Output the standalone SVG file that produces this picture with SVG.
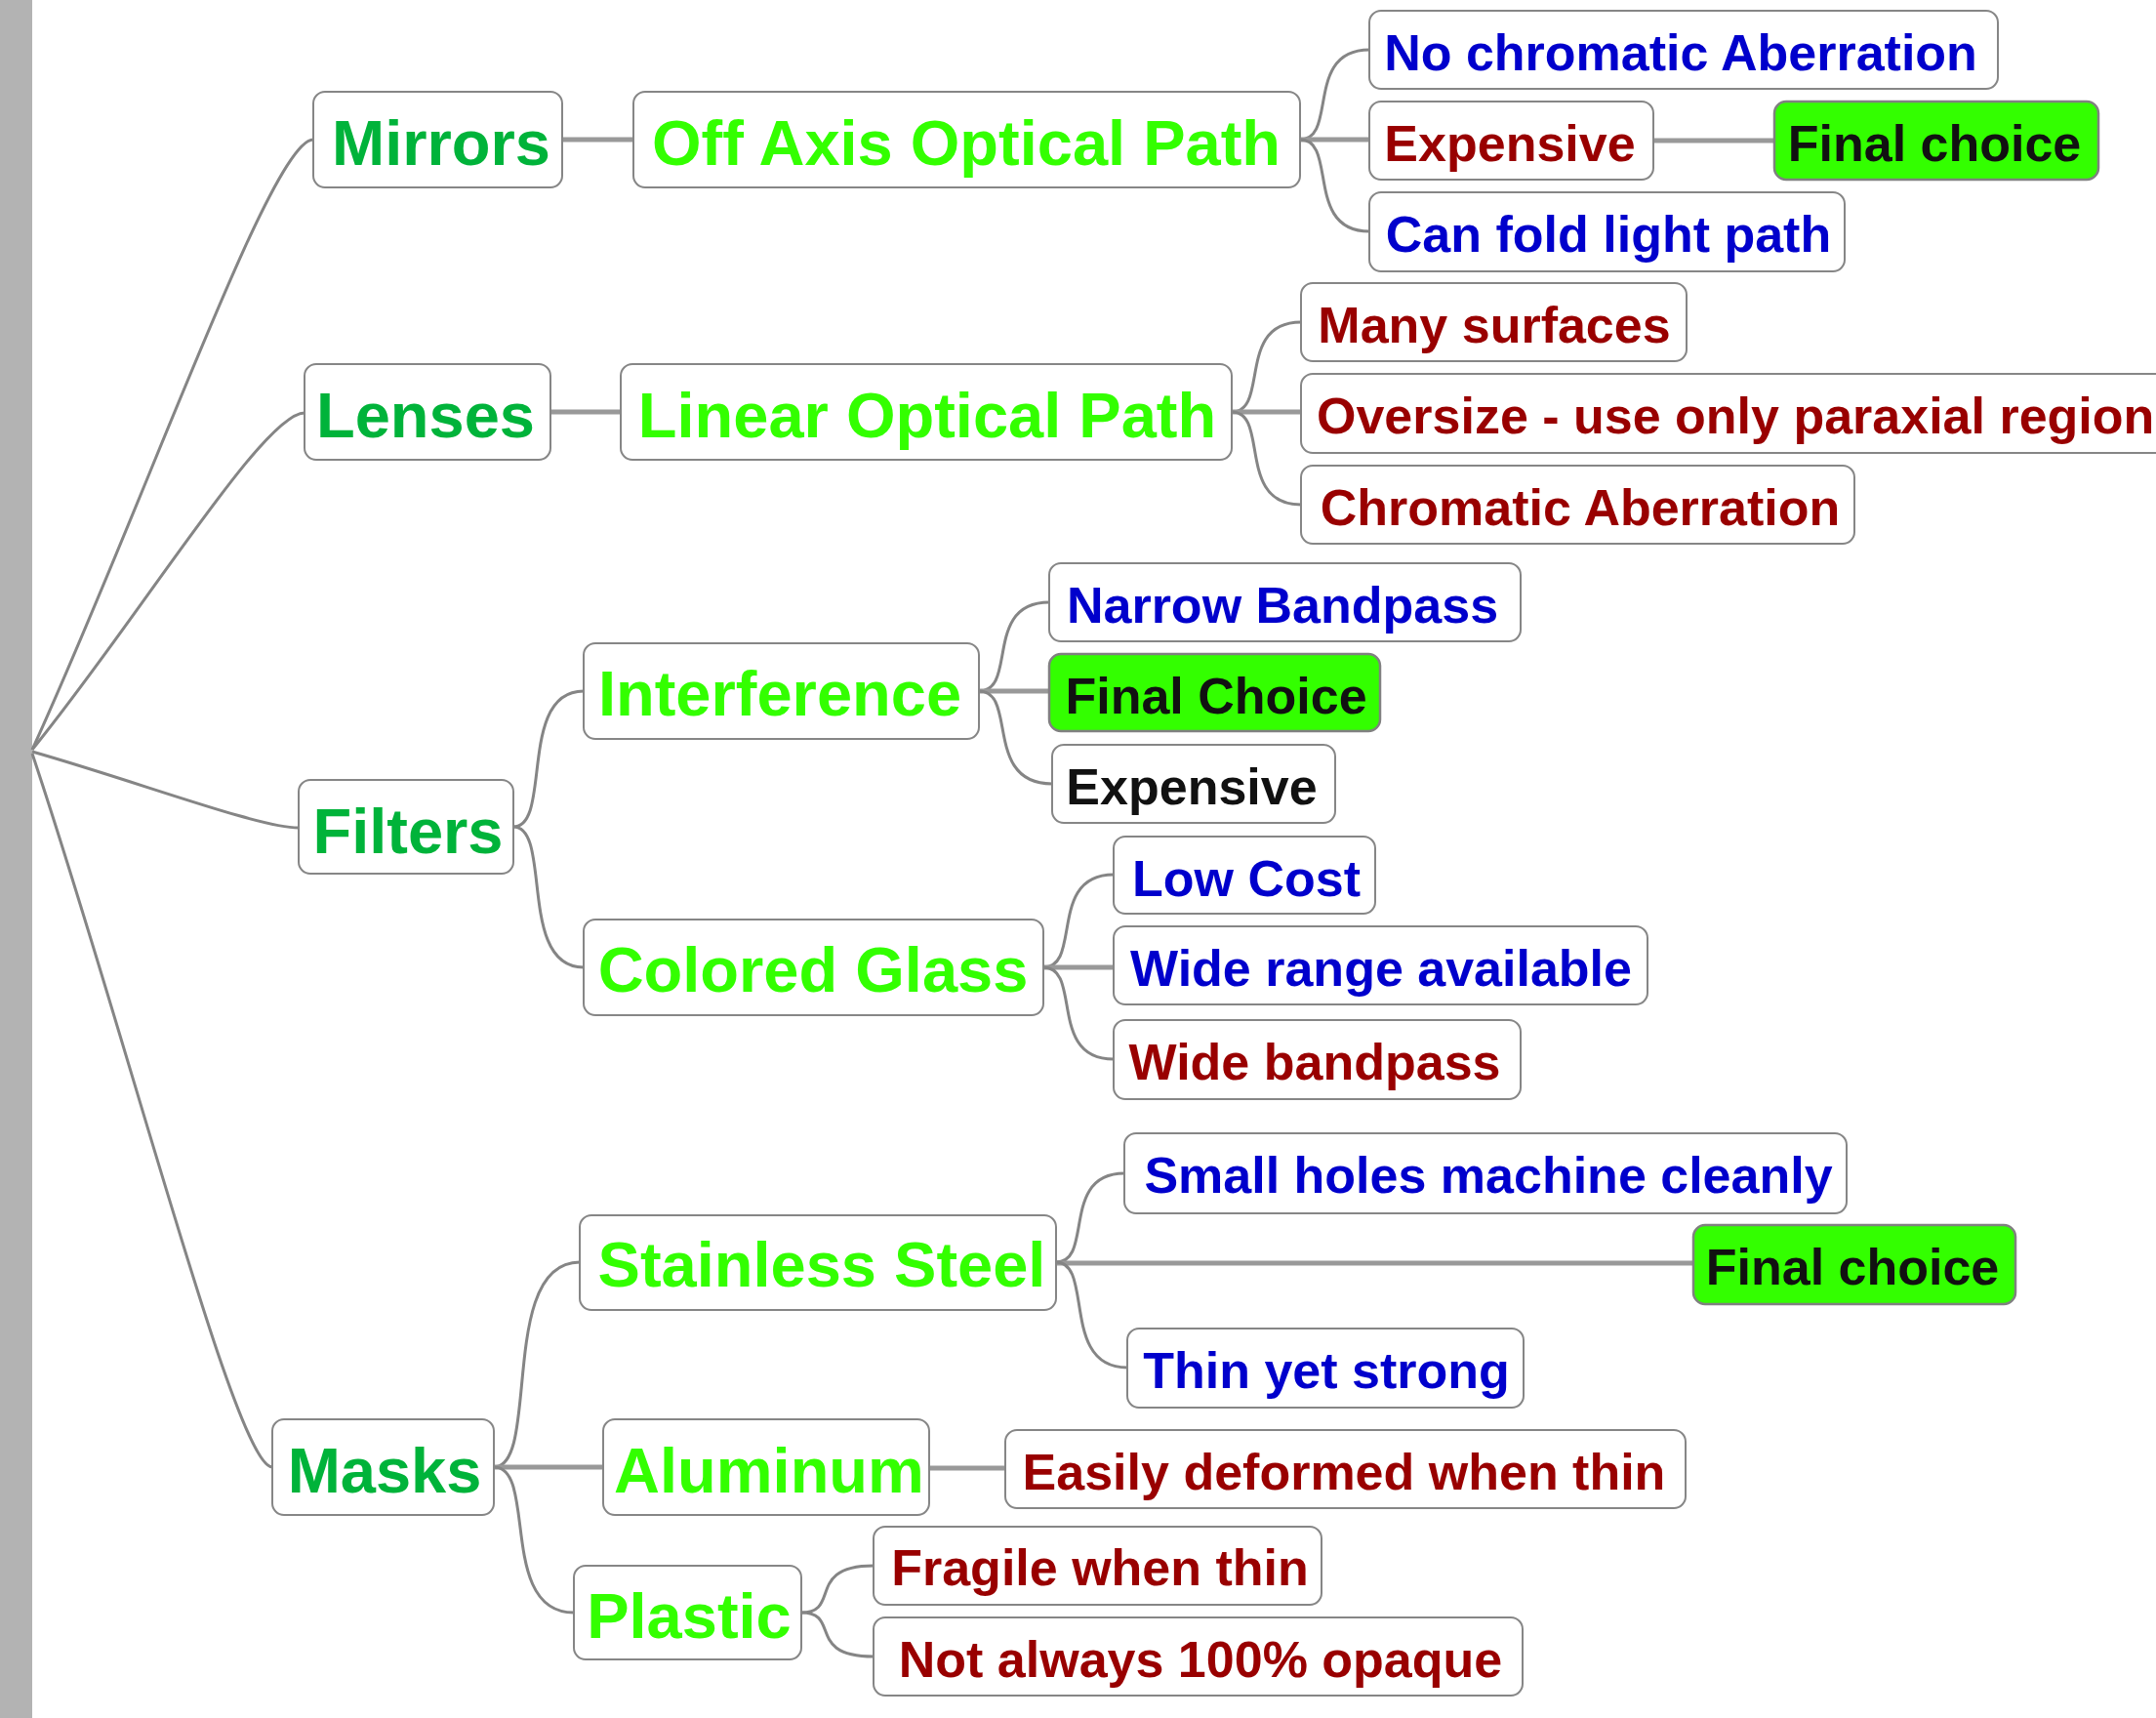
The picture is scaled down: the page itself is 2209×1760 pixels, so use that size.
<svg xmlns="http://www.w3.org/2000/svg" width="2209" height="1760" viewBox="0 0 2209 1760">
<style>
.box{fill:#ffffff;stroke:#868686;stroke-width:2}
.fin{fill:#33ff00;stroke:#808080;stroke-width:2.5}
.t{font-family:"Liberation Sans",Arial,sans-serif;font-weight:bold;text-anchor:middle}
.l1{font-size:65px;fill:#00b33a}
.l2{font-size:65px;fill:#33ff00}
.l3{font-size:52px}
.blue{fill:#0000cc}
.red{fill:#990000}
.blk{fill:#111111}
.curve{fill:none;stroke:#858585;stroke-width:3}
.thick{fill:none;stroke:#999999;stroke-width:5}
</style>
<rect x="0" y="0" width="2209" height="1760" fill="#ffffff"/>
<rect x="0" y="0" width="33" height="1760" fill="#b3b3b3"/>

<g id="connectors">
  <!-- root to level 1 -->
  <path class="curve" d="M33 768 C148 517 278 143 321 143"/>
  <path class="curve" d="M33 768 C145 630 270 423 312 423"/>
  <path class="curve" d="M33 770 C142 801 265 848 306 848"/>
  <path class="curve" d="M33 772 C131 1064 242 1503 279 1503"/>
  <!-- level 1 to level 2 -->
  <path class="thick" d="M576 143 H649"/>
  <path class="thick" d="M564 422 H636"/>
  <path class="curve" d="M526 847 C566 847 530 708 598 708"/>
  <path class="curve" d="M526 847 C566 847 530 991 598 991"/>
  <path class="curve" d="M506 1503 C554 1503 510 1293 594 1293"/>
  <path class="thick" d="M506 1503 H618"/>
  <path class="curve" d="M506 1503 C551 1503 510 1652 588 1652"/>
  <!-- Off Axis -->
  <path class="curve" d="M1332 143 C1371 143 1336 51 1403 51"/>
  <path class="thick" d="M1332 143 H1403"/>
  <path class="curve" d="M1332 143 C1371 143 1336 237 1403 237"/>
  <path class="thick" d="M1694 144 H1818"/>
  <!-- Linear -->
  <path class="curve" d="M1262 422 C1301 422 1266 330 1333 330"/>
  <path class="thick" d="M1262 422 H1333"/>
  <path class="curve" d="M1262 422 C1301 422 1266 517 1333 517"/>
  <!-- Interference -->
  <path class="curve" d="M1003 708 C1043 708 1007 617 1075 617"/>
  <path class="thick" d="M1003 708 H1075"/>
  <path class="curve" d="M1003 708 C1043 708 1007 803 1078 803"/>
  <!-- Colored Glass -->
  <path class="curve" d="M1069 991 C1109 991 1073 896 1141 896"/>
  <path class="thick" d="M1069 991 H1141"/>
  <path class="curve" d="M1069 991 C1109 991 1073 1085 1141 1085"/>
  <!-- Stainless Steel -->
  <path class="curve" d="M1082 1293 C1121 1293 1086 1202 1152 1202"/>
  <path class="thick" d="M1082 1294 H1735"/>
  <path class="curve" d="M1082 1293 C1121 1293 1086 1401 1155 1401"/>
  <!-- Aluminum -->
  <path class="thick" d="M952 1504 H1030"/>
  <!-- Plastic -->
  <path class="curve" d="M821 1652 C862 1652 825 1604 895 1604"/>
  <path class="curve" d="M821 1652 C862 1652 825 1697 895 1697"/>
</g>

<g id="mirrors"><rect class="box" x="321" y="94" width="255" height="98" rx="12"/><text class="t l1" x="452" y="169">Mirrors</text></g>
<g id="lenses"><rect class="box" x="312" y="373" width="252" height="98" rx="12"/><text class="t l1" x="436" y="448">Lenses</text></g>
<g id="filters"><rect class="box" x="306" y="799" width="220" height="96" rx="12"/><text class="t l1" x="418" y="874">Filters</text></g>
<g id="masks"><rect class="box" x="279" y="1454" width="227" height="98" rx="12"/><text class="t l1" x="394" y="1529">Masks</text></g>

<g id="offaxis"><rect class="box" x="649" y="94" width="683" height="98" rx="12"/><text class="t l2" x="990" y="169">Off Axis Optical Path</text></g>
<g id="linear"><rect class="box" x="636" y="373" width="626" height="98" rx="12"/><text class="t l2" x="950" y="448">Linear Optical Path</text></g>
<g id="interference"><rect class="box" x="598" y="659" width="405" height="98" rx="12"/><text class="t l2" x="799" y="733">Interference</text></g>
<g id="coloredglass"><rect class="box" x="598" y="942" width="471" height="98" rx="12"/><text class="t l2" x="833" y="1016">Colored Glass</text></g>
<g id="stainless"><rect class="box" x="594" y="1245" width="488" height="97" rx="12"/><text class="t l2" x="842" y="1318">Stainless Steel</text></g>
<g id="aluminum"><rect class="box" x="618" y="1454" width="334" height="98" rx="12"/><text class="t l2" x="788" y="1529">Aluminum</text></g>
<g id="plastic"><rect class="box" x="588" y="1604" width="233" height="96" rx="12"/><text class="t l2" x="706" y="1678">Plastic</text></g>

<g id="nochromatic"><rect class="box" x="1403" y="11" width="644" height="80" rx="12"/><text class="t l3 blue" x="1722" y="72">No chromatic Aberration</text></g>
<g id="expensive1"><rect class="box" x="1403" y="104" width="291" height="80" rx="12"/><text class="t l3 red" x="1547" y="165">Expensive</text></g>
<g id="finalchoice1"><rect class="fin" x="1818" y="104" width="332" height="80" rx="12"/><text class="t l3 blk" x="1982" y="165">Final choice</text></g>
<g id="canfold"><rect class="box" x="1403" y="197" width="487" height="81" rx="12"/><text class="t l3 blue" x="1648" y="258">Can fold light path</text></g>

<g id="manysurfaces"><rect class="box" x="1333" y="290" width="395" height="80" rx="12"/><text class="t l3 red" x="1531" y="351">Many surfaces</text></g>
<g id="oversize"><rect class="box" x="1333" y="383" width="900" height="81" rx="12"/><text class="t l3 red" x="1349" y="444" style="text-anchor:start">Oversize - use only paraxial region</text></g>
<g id="chromatic"><rect class="box" x="1333" y="477" width="567" height="80" rx="12"/><text class="t l3 red" x="1619" y="538">Chromatic Aberration</text></g>

<g id="narrow"><rect class="box" x="1075" y="577" width="483" height="80" rx="12"/><text class="t l3 blue" x="1314" y="638">Narrow Bandpass</text></g>
<g id="finalchoice2"><rect class="fin" x="1075" y="670" width="339" height="79" rx="12"/><text class="t l3 blk" x="1246" y="731">Final Choice</text></g>
<g id="expensive2"><rect class="box" x="1078" y="763" width="290" height="80" rx="12"/><text class="t l3 blk" x="1221" y="824">Expensive</text></g>

<g id="lowcost"><rect class="box" x="1141" y="857" width="268" height="79" rx="12"/><text class="t l3 blue" x="1277" y="918">Low Cost</text></g>
<g id="widerange"><rect class="box" x="1141" y="949" width="547" height="80" rx="12"/><text class="t l3 blue" x="1415" y="1010">Wide range available</text></g>
<g id="widebandpass"><rect class="box" x="1141" y="1045" width="417" height="81" rx="12"/><text class="t l3 red" x="1347" y="1106">Wide bandpass</text></g>

<g id="smallholes"><rect class="box" x="1152" y="1161" width="740" height="82" rx="12"/><text class="t l3 blue" x="1525" y="1222">Small holes machine cleanly</text></g>
<g id="finalchoice3"><rect class="fin" x="1735" y="1255" width="330" height="81" rx="12"/><text class="t l3 blk" x="1898" y="1316">Final choice</text></g>
<g id="thinyet"><rect class="box" x="1155" y="1361" width="406" height="81" rx="12"/><text class="t l3 blue" x="1359" y="1422">Thin yet strong</text></g>

<g id="easily"><rect class="box" x="1030" y="1465" width="697" height="80" rx="12"/><text class="t l3 red" x="1377" y="1526">Easily deformed when thin</text></g>
<g id="fragile"><rect class="box" x="895" y="1564" width="459" height="80" rx="12"/><text class="t l3 red" x="1127" y="1624">Fragile when thin</text></g>
<g id="notalways"><rect class="box" x="895" y="1657" width="665" height="80" rx="12"/><text class="t l3 red" x="1230" y="1718">Not always 100% opaque</text></g>
</svg>
